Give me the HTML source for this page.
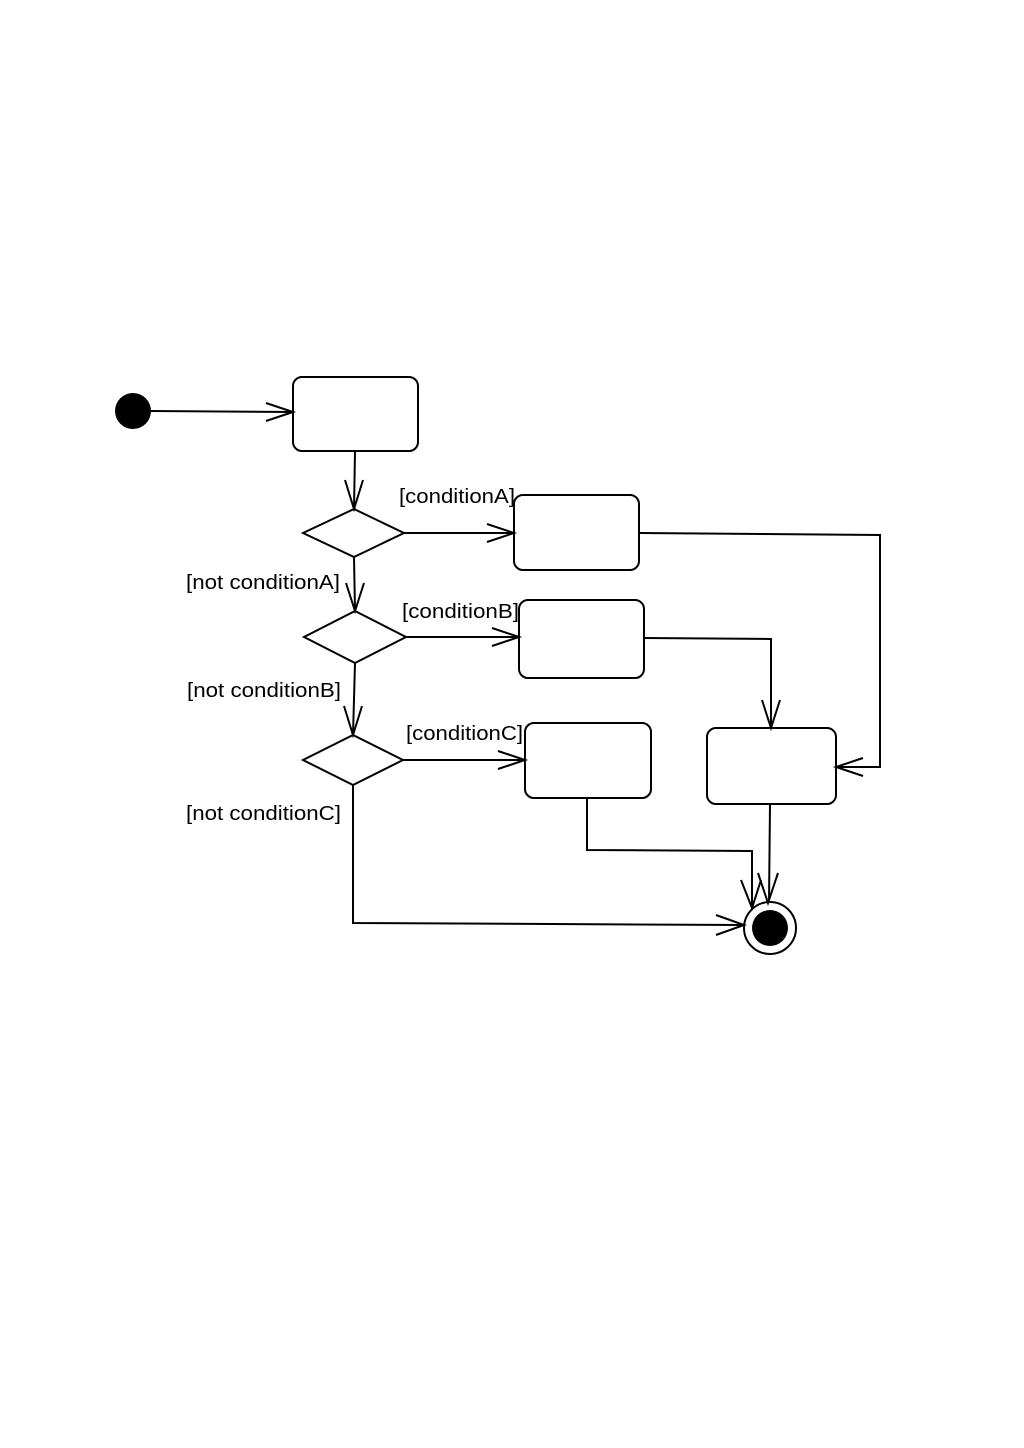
<!DOCTYPE html>
<html><head><meta charset="utf-8"><style>html,body{margin:0;padding:0;background:#fff}svg{display:block}</style></head>
<body>
<svg width="1024" height="1448" viewBox="0 0 1024 1448" xmlns="http://www.w3.org/2000/svg">
<rect width="1024" height="1448" fill="#fff"/>
<g fill="none" stroke="#000" stroke-width="2">
<circle cx="133" cy="411" r="18" fill="#000" stroke="none"/>
<line x1="151" y1="411" x2="293" y2="412"/>
<polyline points="266,403 293,412 266,421"/>
<rect x="293" y="377" width="125" height="74" rx="9"/>
<line x1="355" y1="451" x2="354" y2="509"/>
<polyline points="345,480 354,509 363,480"/>
<polygon points="303,533 354,509 404,533 354,557"/>
<line x1="404" y1="533" x2="514" y2="533"/>
<polyline points="487,524 514,533 487,542"/>
<rect x="514" y="495" width="125" height="75" rx="9"/>
<polyline points="639,533 880,535 880,767 836,767"/>
<polyline points="863,758 836,767 863,776"/>
<line x1="354" y1="557" x2="355" y2="611"/>
<polyline points="346,583 355,611 364,583"/>
<polygon points="304,637 355,611 406,637 355,663"/>
<line x1="406" y1="637" x2="519" y2="637"/>
<polyline points="492,628 519,637 492,646"/>
<rect x="519" y="600" width="125" height="78" rx="9"/>
<polyline points="644,638 771,639 771,728"/>
<polyline points="762,700 771,728 780,700"/>
<rect x="707" y="728" width="129" height="76" rx="9"/>
<line x1="355" y1="663" x2="353" y2="735"/>
<polyline points="344,706 353,735 362,706"/>
<polygon points="303,760 353,735 403,760 353,785"/>
<line x1="403" y1="760" x2="525" y2="760"/>
<polyline points="498,751 525,760 498,769"/>
<rect x="525" y="723" width="126" height="75" rx="9"/>
<polyline points="587,798 587,850 752,851 752,908"/>
<polyline points="741,880 752,908 761,880"/>
<line x1="770" y1="804" x2="769" y2="903"/>
<polyline points="758,873 768,903 778,873"/>
<polyline points="353,785 353,923 744,925"/>
<polyline points="716,915 744,925 716,935"/>
<circle cx="770" cy="928" r="26"/>
<circle cx="770" cy="928" r="18" fill="#000" stroke="none"/>
</g>
<g font-family="Liberation Sans, sans-serif" font-size="20" fill="#000">
<text x="399" y="503" textLength="116" lengthAdjust="spacingAndGlyphs">[conditionA]</text>
<text x="186" y="589" textLength="154" lengthAdjust="spacingAndGlyphs">[not conditionA]</text>
<text x="402" y="618" textLength="117" lengthAdjust="spacingAndGlyphs">[conditionB]</text>
<text x="187" y="697" textLength="154" lengthAdjust="spacingAndGlyphs">[not conditionB]</text>
<text x="406" y="740" textLength="117" lengthAdjust="spacingAndGlyphs">[conditionC]</text>
<text x="186" y="820" textLength="155" lengthAdjust="spacingAndGlyphs">[not conditionC]</text>
</g>
</svg>
</body></html>
